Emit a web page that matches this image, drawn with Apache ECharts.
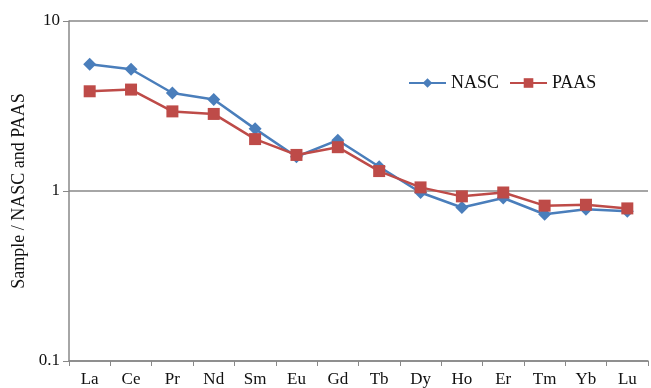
<!DOCTYPE html>
<html>
<head>
<meta charset="utf-8">
<script src="https://cdn.jsdelivr.net/npm/echarts@6/dist/echarts.min.js"></script>
<style>
  html, body { margin: 0; padding: 0; background: #fff; }
  #chart { width: 651px; height: 388px; }
</style>
</head>
<body>
<div id="chart"></div>
<script>
const elements = ["La", "Ce", "Pr", "Nd", "Sm", "Eu", "Gd", "Tb", "Dy", "Ho", "Er", "Tm", "Yb", "Lu"];
const nasc = [5.56, 5.2, 3.77, 3.45, 2.32, 1.59, 1.99, 1.39, 0.98, 0.8, 0.91, 0.73, 0.78, 0.76];
const paas = [3.86, 3.95, 2.94, 2.84, 2.02, 1.63, 1.81, 1.31, 1.05, 0.93, 0.98, 0.82, 0.83, 0.79];

const chart = echarts.init(document.getElementById("chart"));
const font = "Liberation Serif";

const option = {
  animation: false,
  textStyle: { fontFamily: font },
  legend: {
    left: 403,
    top: 69,
    itemWidth: 37,
    itemHeight: 12,
    itemGap: 10,
    textStyle: { fontFamily: font, fontSize: 18, color: "#111" },
    data: ["NASC", "PAAS"],
  },
  grid: {
    left: 69,
    right: 3,
    top: 21,
    bottom: 26,
  },
  xAxis: {
    type: "category",
    data: elements,
    boundaryGap: true,
    axisLine: { lineStyle: { color: "#888", width: 1.5 } },
    axisTick: { show: true, length: 5, lineStyle: { color: "#888" } },
    axisLabel: { color: "#111", fontSize: 17, fontFamily: font, margin: 10, interval: 0 },
  },
  yAxis: {
    type: "log",
    logBase: 10,
    min: 0.1,
    max: 10,
    name: "Sample / NASC and PAAS",
    nameLocation: "middle",
    nameGap: 40,
    nameTextStyle: { fontFamily: font, fontSize: 18, color: "#111" },
    axisLine: { show: true, lineStyle: { color: "#888", width: 1.5 } },
    axisTick: { show: true, length: 6, lineStyle: { color: "#888" } },
    axisLabel: {
      color: "#111",
      fontSize: 17,
      fontFamily: font,
      margin: 9,
      formatter: function (v) { return String(v); },
    },
    splitLine: { show: true, lineStyle: { color: "#888", width: 1.5 } },
  },
  series: [
    {
      name: "NASC",
      type: "line",
      data: nasc,
      symbol: "diamond",
      symbolSize: 13,
      color: "#4a7ebb",
      lineStyle: { width: 2.5, color: "#4a7ebb" },
      itemStyle: { color: "#4a7ebb" },
    },
    {
      name: "PAAS",
      type: "line",
      data: paas,
      symbol: "rect",
      symbolSize: 12,
      color: "#be4b48",
      lineStyle: { width: 2.5, color: "#be4b48" },
      itemStyle: { color: "#be4b48" },
    },
  ],
};
chart.setOption(option);
</script>
</body>
</html>
